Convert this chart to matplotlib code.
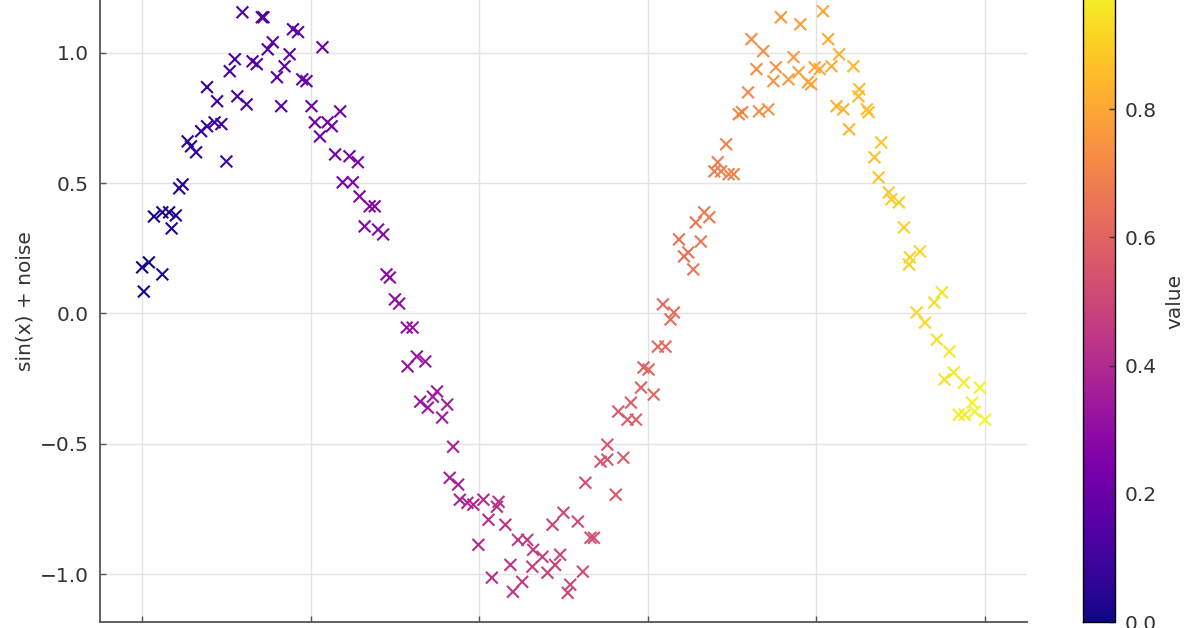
import numpy as np
import matplotlib
matplotlib.use('Agg')
import matplotlib.pyplot as plt

# points (x, sin(x) + noise)
x = np.array([
    0.00, 0.02, 0.08, 0.14, 0.24, 0.24, 0.32, 0.35, 0.40, 0.44,
    0.48, 0.54, 0.58, 0.64, 0.70, 0.77, 0.77, 0.86, 0.89, 0.94,
    1.00, 1.04, 1.10, 1.13, 1.19, 1.24, 1.31, 1.36, 1.42, 1.44,
    1.49, 1.55, 1.60, 1.65, 1.69, 1.75, 1.79, 1.85, 1.90, 1.95,
    2.01, 2.05, 2.11, 2.14, 2.20, 2.25, 2.35, 2.29, 2.38, 2.46,
    2.50, 2.56, 2.58, 2.64, 2.70, 2.76, 2.80, 2.86, 2.90, 2.94,
    3.00, 3.05, 3.14, 3.21, 3.15, 3.26, 3.36, 3.30, 3.39, 3.45,
    3.50, 3.56, 3.62, 3.69, 3.65, 3.75, 3.77, 3.86, 3.93, 3.99,
    4.05, 4.11, 4.15, 4.21, 4.23, 4.31, 4.37, 4.40, 4.46, 4.51,
    4.57, 4.63, 4.64, 4.75, 4.81, 4.87, 4.90, 4.96, 5.00, 5.05,
    5.08, 5.17, 5.23, 5.32, 5.36, 5.26, 5.44, 5.52, 5.52, 5.62,
    5.71, 5.65, 5.76, 5.86, 5.80, 5.92, 6.07, 5.95, 6.01, 6.12,
    6.21, 6.27, 6.18, 6.31, 6.37, 6.43, 6.48, 6.54, 6.57, 6.63,
    6.67, 6.73, 6.79, 6.83, 6.87, 6.96, 7.02, 6.93, 7.08, 7.12,
    7.19, 7.23, 7.29, 7.32, 7.37, 7.43, 7.49, 7.52, 7.58, 7.67,
    7.73, 7.79, 7.81, 7.90, 7.94, 7.98, 8.04, 8.08, 8.14, 8.18,
    8.24, 8.27, 8.32, 8.39, 8.44, 8.50, 8.51, 8.60, 8.62, 8.69,
    8.77, 8.74, 8.86, 8.89, 8.98, 9.04, 9.11, 9.10, 9.23, 9.19,
    9.29, 9.40, 9.49, 9.43, 9.58, 9.52, 9.63, 9.75, 9.69, 9.76,
    9.85, 9.88, 9.94, 10.00,
])
y = np.array([
    0.177, 0.084, 0.196, 0.372, 0.388, 0.150, 0.388, 0.326, 0.376, 0.480,
    0.495, 0.660, 0.641, 0.618, 0.699, 0.718, 0.868, 0.733, 0.814, 0.726,
    0.583, 0.929, 0.975, 0.833, 1.155, 0.802, 0.967, 0.956, 1.136, 1.136,
    1.013, 1.040, 0.906, 0.795, 0.948, 0.994, 1.090, 1.079, 0.898, 0.891,
    0.795, 0.733, 0.679, 1.021, 0.733, 0.718, 0.775, 0.610, 0.503, 0.603,
    0.503, 0.580, 0.449, 0.334, 0.411, 0.411, 0.322, 0.303, 0.150, 0.138,
    0.054, 0.038, -0.054, -0.054, -0.203, -0.165, -0.184, -0.338, -0.361, -0.319,
    -0.299, -0.399, -0.349, -0.511, -0.630, -0.656, -0.714, -0.726, -0.733, -0.887,
    -0.714, -0.791, -1.013, -0.741, -0.722, -0.810, -0.964, -1.067, -0.868, -1.029,
    -0.868, -0.971, -0.906, -0.933, -0.994, -0.810, -0.964, -0.925, -0.764, -1.071,
    -1.040, -0.798, -0.990, -0.860, -0.860, -0.649, -0.568, -0.560, -0.503, -0.695,
    -0.553, -0.376, -0.407, -0.407, -0.342, -0.284, -0.311, -0.207, -0.215, -0.127,
    -0.127, -0.023, 0.035, 0.004, 0.284, 0.219, 0.234, 0.169, 0.349, 0.276,
    0.388, 0.369, 0.545, 0.580, 0.545, 0.534, 0.534, 0.649, 0.764, 0.772,
    0.848, 1.052, 0.937, 0.775, 1.006, 0.783, 0.891, 0.944, 1.136, 0.898,
    0.983, 0.925, 1.109, 0.887, 0.879, 0.944, 0.937, 1.159, 1.052, 0.948,
    0.795, 0.994, 0.783, 0.706, 0.948, 0.833, 0.860, 0.783, 0.772, 0.599,
    0.656, 0.522, 0.464, 0.438, 0.426, 0.330, 0.215, 0.188, 0.238, 0.004,
    -0.035, 0.042, 0.081, -0.100, -0.146, -0.253, -0.226, -0.265, -0.388, -0.388,
    -0.342, -0.376, -0.284, -0.407,
])
value = x / 10.0

fontsize = 14.5
text_color = '#333333'

fig = plt.figure(figsize=(11.96, 6.28), dpi=100)
# the reference is a crop: the axes run past the top and bottom edges
ax = fig.add_axes([100 / 1196, 6 / 628, 927 / 1196, 641 / 628])
cax = fig.add_axes([1083 / 1196, 6 / 628, 32 / 1196, 641 / 628])

sc = ax.scatter(x, y, c=value, cmap='plasma', vmin=0, vmax=1,
                marker='x', s=72, linewidths=1.5, zorder=3)

ax.set_xlim(-0.5, 10.5)
ax.set_ylim(-1.183, 1.275)
ax.set_xticks([0, 2, 4, 6, 8, 10])
ax.set_yticks([-1.0, -0.5, 0.0, 0.5, 1.0])
ax.grid(True, color='#e3e3e3', linewidth=1.0, zorder=0)
ax.set_axisbelow(True)

for side in ['top', 'right']:
    ax.spines[side].set_visible(False)
for side in ['left', 'bottom']:
    ax.spines[side].set_color('#555555')
    ax.spines[side].set_linewidth(1.3)

ax.tick_params(direction='in', length=4, width=1, color='#555555',
               labelsize=fontsize, labelcolor=text_color, pad=8)
ax.tick_params(axis='x', pad=12)
ax.set_ylabel('sin(x) + noise', fontsize=fontsize, color=text_color, labelpad=4)
ax.set_xlabel('x', fontsize=fontsize, color=text_color)

cbar = fig.colorbar(sc, cax=cax)
cbar.set_ticks([0.0, 0.2, 0.4, 0.6, 0.8, 1.0])
cbar.outline.set_edgecolor('black')
cbar.outline.set_linewidth(1.0)
cax.tick_params(direction='in', length=4, width=1, color='#333333',
                labelsize=fontsize, labelcolor=text_color, pad=7)
cbar.set_label('value', fontsize=fontsize, color=text_color, labelpad=6)

fig.savefig('out.png', dpi=100)
